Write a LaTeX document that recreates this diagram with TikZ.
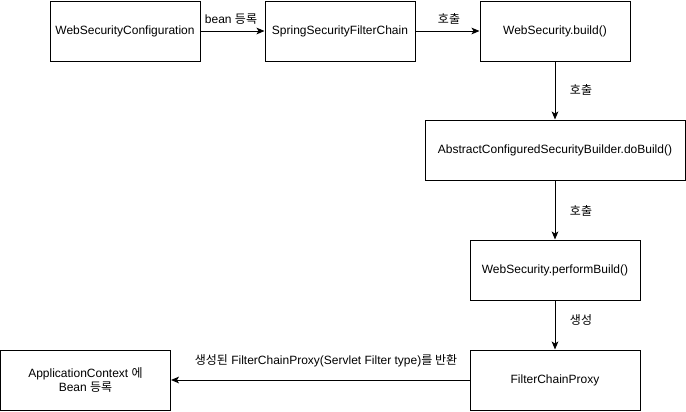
\documentclass[tikz,border=0pt]{standalone}
\usepackage{fontspec}
\setmainfont{Liberation Sans}
\newfontfamily\kr{Noto Sans CJK KR}
\usetikzlibrary{arrows.meta}
\begin{document}
\begin{tikzpicture}[x=0.75pt,y=-0.75pt,
  box/.style={draw=black,line width=0.75pt,minimum width=#1*0.75pt,minimum height=45pt,inner sep=0pt,align=center,font=\fontsize{9pt}{10.5pt}\selectfont},
  box/.default=150,
  conn/.style={draw=black,line width=0.75pt,-{Stealth[length=6pt,width=5pt,inset=1.5pt]}},
  lbl/.style={font=\fontsize{9pt}{10.5pt}\selectfont,inner sep=1pt}]
\useasboundingbox (0,0) rectangle (686,411);
\node[box] (wsc) at (125,31) {WebSecurityConfiguration};
\node[box] (ssfc) at (340,31) {SpringSecurityFilterChain};
\node[box] (wsb) at (555,31) {WebSecurity.build()};
\node[box=260] (acsb) at (555,150) {AbstractConfiguredSecurityBuilder.doBuild()};
\node[box=170] (wspb) at (555,270) {WebSecurity.performBuild()};
\node[box=170] (fcp) at (555,380) {FilterChainProxy};
\node[box=170] (ac) at (85.5,380) {ApplicationContext {\kr 에}\\Bean {\kr 등록}};
\draw[conn] (wsc) -- (ssfc);
\draw[conn] (ssfc) -- (wsb);
\draw[conn] (wsb) -- (acsb);
\draw[conn] (acsb) -- (wspb);
\draw[conn] (wspb) -- (fcp);
\draw[conn] (fcp) -- (ac);
\node[lbl] (l1) at (231,19) {bean {\kr 등록}};
\node[lbl] (l2) at (449,19) {\kr 호출};
\node[lbl] (l3) at (581,90) {\kr 호출};
\node[lbl] (l4) at (581,211) {\kr 호출};
\node[lbl] (l5) at (581,320) {\kr 생성};
\node[lbl] (l6) at (326,361) {{\kr 생성된} FilterChainProxy(Servlet Filter type){\kr 를 반환}};
\end{tikzpicture}
\end{document}
